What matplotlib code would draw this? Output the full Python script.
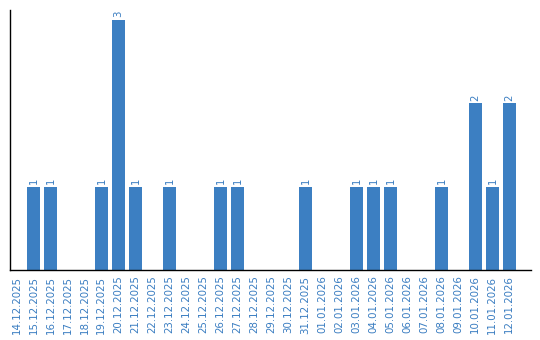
import matplotlib
matplotlib.use("Agg")
import matplotlib.pyplot as plt

dates = ["14.12.2025", "15.12.2025", "16.12.2025", "17.12.2025", "18.12.2025",
         "19.12.2025", "20.12.2025", "21.12.2025", "22.12.2025", "23.12.2025",
         "24.12.2025", "25.12.2025", "26.12.2025", "27.12.2025", "28.12.2025",
         "29.12.2025", "30.12.2025", "31.12.2025", "01.01.2026", "02.01.2026",
         "03.01.2026", "04.01.2026", "05.01.2026", "06.01.2026", "07.01.2026",
         "08.01.2026", "09.01.2026", "10.01.2026", "11.01.2026", "12.01.2026"]
counts = [0, 1, 1, 0, 0, 1, 3, 1, 0, 1, 0, 0, 1, 1, 0, 0, 0, 1, 0, 0,
          1, 1, 1, 0, 0, 1, 0, 2, 1, 2]

bar_color = "#3c7fc2"
text_color = "#3a7dc1"

fig = plt.figure(figsize=(5.4, 3.4), dpi=100)
ax = fig.add_axes([0.0194, 0.206, 0.9636, 0.7646])
x = list(range(len(dates)))
ax.bar(x, counts, width=0.8, color=bar_color)
for xi, v in zip(x, counts):
    if v > 0:
        ax.text(xi, v + 0.03, str(v), rotation=90, ha="center", va="bottom",
                fontsize=7.3, color=text_color)
ax.set_xlim(-0.35, 30.26)
ax.set_ylim(0, 3.12)
ax.set_xticks(x)
ax.set_xticklabels(dates, rotation=90, fontsize=7.4, color=text_color)
ax.tick_params(axis="x", length=0, pad=4)
ax.set_yticks([])
ax.spines["top"].set_visible(False)
ax.spines["right"].set_visible(False)
ax.spines["left"].set_linewidth(1.0)
ax.spines["bottom"].set_linewidth(1.0)
fig.savefig("out.png", dpi=100)
